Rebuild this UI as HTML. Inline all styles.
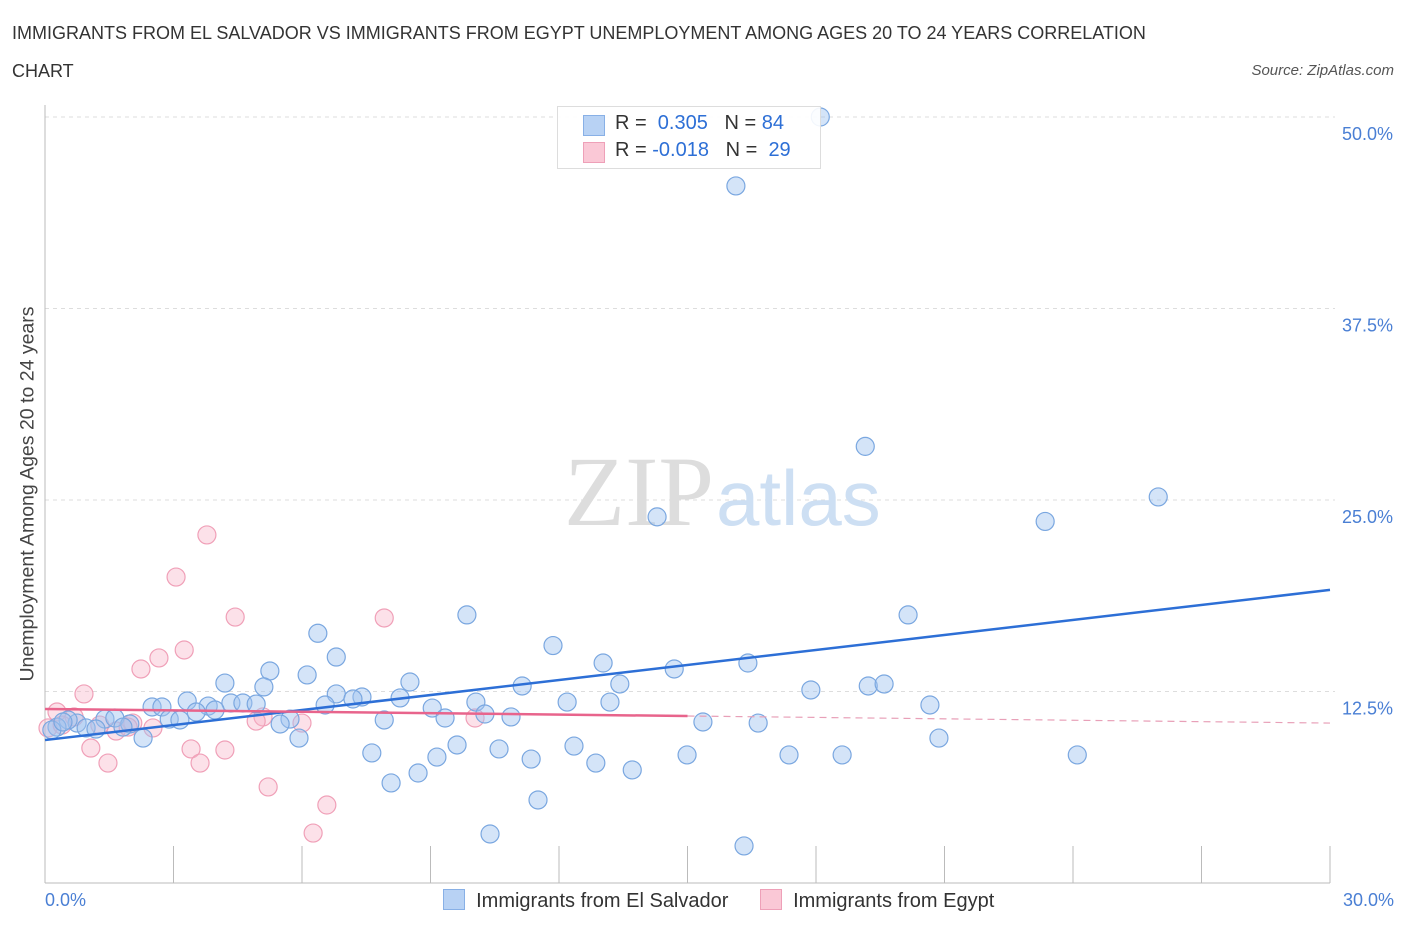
<!DOCTYPE html>
<html><head><meta charset="utf-8"><style>
body{margin:0;background:#fff;font-family:"Liberation Sans",sans-serif;}
.t{position:absolute;}
</style></head><body>
<div style="position:relative;width:1406px;height:930px;overflow:hidden">
<div class="t" style="left:12px;top:14px;font-size:18px;color:#333;line-height:38px;width:1190px">IMMIGRANTS FROM EL SALVADOR VS IMMIGRANTS FROM EGYPT UNEMPLOYMENT AMONG AGES 20 TO 24 YEARS CORRELATION CHART</div>
<div class="t" style="right:12px;top:62px;font-size:15px;color:#555;font-style:italic">Source: ZipAtlas.com</div>
<svg id="svg" width="1406" height="930" style="position:absolute;left:0;top:0"></svg>
</div>
<script>
const xTicksLbl=["0.0%","30.0%"];
const yTicks=[12.5,25,37.5,50];
const yTickLabels=["12.5%","25.0%","37.5%","50.0%"];
const blueX=[18.1,16.13,19.15,25.99,23.35,14.29,20.15,9.85,6.37,11.86,6.8,13.03,16.41,5.25,14.69,6.12,4.2,8.52,5.11,13.42,11.14,19.22,19.59,17.88,6.8,7.4,7.19,8.29,3.32,10.06,12.19,13.19,2.5,2.73,3.81,4.34,4.62,4.93,20.66,6.54,3.97,9.04,3.53,10.27,2.9,3.15,9.34,10.88,5.72,7.92,1.4,1.63,5.49,15.36,16.65,1.98,0.75,0.54,0.96,1.19,1.82,0.28,0.16,2.29,5.93,20.87,9.62,12.35,10.6,7.63,9.15,14.99,17.37,18.61,24.1,11.35,12.86,13.71,8.71,8.08,11.51,10.39,16.32,0.42];
const blueY=[50.0,45.5,28.5,25.2,23.6,23.9,17.5,17.5,16.3,15.5,14.75,14.36,14.36,13.84,13.97,13.58,13.05,13.12,12.8,12.99,12.86,12.86,12.99,12.6,12.34,12.14,12.01,12.08,11.88,11.81,11.81,11.81,11.49,11.49,11.55,11.75,11.75,11.68,11.62,11.62,11.29,11.42,11.16,11.03,10.7,10.64,10.77,10.84,10.7,10.64,10.7,10.77,10.38,10.51,10.44,10.38,10.44,10.64,10.12,10.05,10.18,10.18,9.99,9.46,9.46,9.46,9.01,8.94,8.75,8.49,8.22,8.36,8.36,8.36,8.36,8.09,7.83,7.38,7.18,6.53,5.42,3.2,2.42,10.51];
const pinkX=[3.78,3.06,4.44,7.92,3.25,2.66,2.24,0.91,0.28,0.07,0.68,5.09,6.0,4.93,10.04,2.05,1.66,2.52,1.07,3.41,4.2,1.47,3.62,5.21,6.58,6.26,0.4,1.28,1.94];
const pinkY=[22.72,19.97,17.36,17.3,15.21,14.69,13.97,12.34,11.16,10.12,10.84,10.84,10.44,10.57,10.77,10.44,9.92,10.12,8.81,8.75,8.68,7.83,7.83,6.27,5.09,3.26,10.31,10.31,10.18];
const blueTrend=[9.33,19.13];
const pinkTrend=[11.36,10.44];
const pinkSolidEnd=15;
const X0=45,X1=1330,Y0=883,Y1=117;
const sx=v=>X0+v/30*(X1-X0), sy=v=>Y0-v/50*(Y0-Y1);
const svg=document.getElementById('svg');const NS='http://www.w3.org/2000/svg';
function mk(t,a,name){const e=document.createElementNS(NS,t);for(const k in a)e.setAttribute(k,a[k]);


svg.appendChild(e);return e;}
yTicks.forEach((v,i)=>{mk('line',{x1:X0,x2:X1+5,y1:sy(v),y2:sy(v),stroke:'#ddd','stroke-dasharray':'4,4'},'gridline');
const t=mk('text',{x:1393,y:sy(v)+23,'text-anchor':'end','font-size':18,fill:'#4a7fd4','font-family':'Liberation Sans'},'y-tick-label');t.textContent=yTickLabels[i];});
mk('line',{x1:X0,x2:X0,y1:105,y2:Y0,stroke:'#bbb'},'y-axis-line');
mk('line',{x1:X0,x2:X1,y1:Y0,y2:Y0,stroke:'#bbb'},'x-axis-line');
for(let i=0;i<=10;i++){mk('line',{x1:sx(i*3),x2:sx(i*3),y1:Y0,y2:846,stroke:'#bbb'},'x-tick');}
let w=mk('text',{x:714,y:525,'text-anchor':'end','font-size':100,fill:'#ddd','font-family':'Liberation Serif'},'watermark-zip');w.textContent='ZIP';
w=mk('text',{x:716,y:525,'font-size':78,fill:'#cddff3','font-family':'Liberation Sans'},'watermark-atlas');w.textContent='atlas';
pinkX.forEach((x,i)=>mk('circle',{cx:sx(x),cy:sy(pinkY[i]),r:9,fill:'rgba(248,180,200,0.4)',stroke:'#f0a0b8','stroke-width':1.2},'egypt-point'));
blueX.forEach((x,i)=>mk('circle',{cx:sx(x),cy:sy(blueY[i]),r:9,fill:'rgba(160,196,240,0.45)',stroke:'#7aa7e0','stroke-width':1.2},'el-salvador-point'));
mk('line',{x1:sx(0),x2:sx(30),y1:sy(blueTrend[0]),y2:sy(blueTrend[1]),stroke:'#2d6fd6','stroke-width':2.5},'el-salvador-trendline');
const py=x=>pinkTrend[0]+(pinkTrend[1]-pinkTrend[0])*x/30;
mk('line',{x1:sx(0),x2:sx(pinkSolidEnd),y1:sy(py(0)),y2:sy(py(pinkSolidEnd)),stroke:'#e8648c','stroke-width':2.5},'egypt-trendline');
mk('line',{x1:sx(pinkSolidEnd),x2:sx(30),y1:sy(py(pinkSolidEnd)),y2:sy(py(30)),stroke:'#e8a0b8','stroke-width':1.2,'stroke-dasharray':'7,5'},'egypt-trendline-extension');
</script>
<div class="t" style="left:45px;top:890px;font-size:18px;color:#4a7fd4">0.0%</div>
<div class="t" style="right:12px;top:890px;font-size:18px;color:#4a7fd4">30.0%</div>
<div class="t" style="left:28px;top:494px;font-size:19.5px;color:#444;transform:translate(-50%,-50%) rotate(-90deg);white-space:nowrap">Unemployment Among Ages 20 to 24 years</div>
<div class="t" style="left:557px;top:106px;width:262px;height:61px;border:1px solid #ddd;background:rgba(255,255,255,.9);font-size:20px;color:#333">
<div style="position:absolute;left:25px;top:8px;width:20px;height:19px;background:#b8d2f4;border:1px solid #88b0e6"></div>
<div style="position:absolute;left:57px;top:5px;white-space:nowrap">R = &nbsp;<span style="color:#2d6fd6">0.305</span>&nbsp;&nbsp; N = <span style="color:#2d6fd6">84</span></div>
<div style="position:absolute;left:25px;top:35px;width:20px;height:19px;background:#fac8d6;border:1px solid #eea0b8"></div>
<div style="position:absolute;left:57px;top:32px;white-space:nowrap">R = <span style="color:#2d6fd6">-0.018</span>&nbsp;&nbsp; N = &nbsp;<span style="color:#2d6fd6">29</span></div>
</div>
<div class="t" style="left:443px;top:889px;font-size:20px;color:#333;white-space:nowrap">
<span style="display:inline-block;width:20px;height:19px;background:#b8d2f4;border:1px solid #88b0e6;vertical-align:-3px"></span>&nbsp; Immigrants from El Salvador
<span style="display:inline-block;width:20px;height:19px;background:#fac8d6;border:1px solid #eea0b8;vertical-align:-3px;margin-left:26px"></span>&nbsp; Immigrants from Egypt
</div>
</body></html>
